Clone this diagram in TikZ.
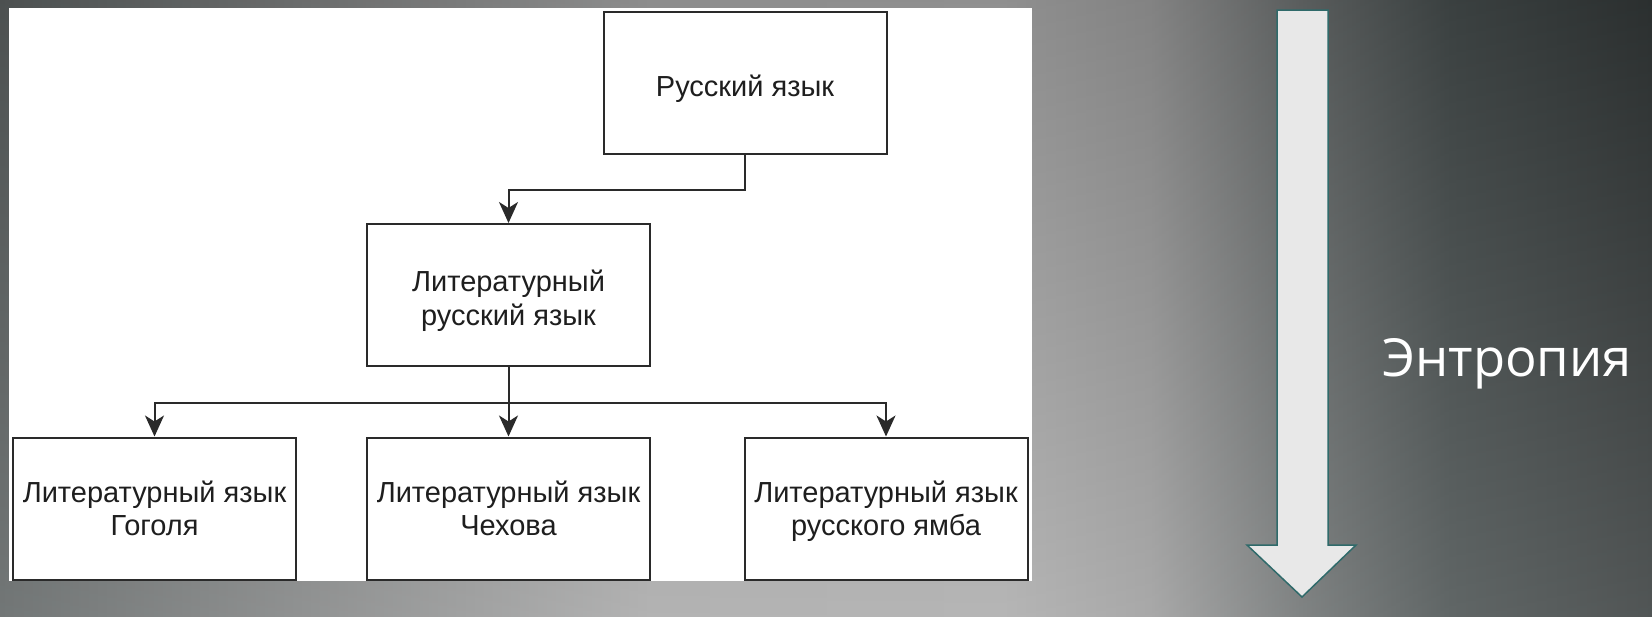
\documentclass[tikz,border=0pt]{standalone}
\usepackage{fontspec}
\setmainfont{Liberation Sans}
\newfontfamily\entfont{Open Sans}
\usetikzlibrary{arrows.meta}
\definecolor{boxline}{HTML}{2A2A2A}
\definecolor{textc}{HTML}{1E1E1E}
\definecolor{arrfill}{HTML}{E8E8E8}
\definecolor{arrline}{HTML}{2F6A6A}
\definecolor{c0}{HTML}{5A5F5F}
\definecolor{c1}{HTML}{7D7F7F}
\definecolor{c2}{HTML}{A6A6A6}
\definecolor{c3}{HTML}{A9A9A9}
\definecolor{c4}{HTML}{9A9A9A}
\definecolor{c5}{HTML}{6A6E6E}
\definecolor{c6}{HTML}{454C4C}
\definecolor{c7}{HTML}{333838}
\pgfdeclarehorizontalshading{bgsh}{100bp}{color(0bp)=(c0); color(25bp)=(c0); color(34bp)=(c1); color(44.7bp)=(c2); color(55.3bp)=(c3); color(59.8bp)=(c4); color(64.35bp)=(c5); color(68.9bp)=(c6); color(75bp)=(c7); color(100bp)=(c7)}
\tikzset{
  box/.style={draw=boxline, line width=2pt, fill=white, minimum width=283pt,
    minimum height=142pt, align=center, inner sep=0pt, text=textc,
    font=\fontsize{29}{33.5}\selectfont, text height=54pt, text depth=0pt},
  onebox/.style={box, text height=28pt, text depth=0pt},
  conn/.style={draw=boxline, line width=2pt,
    -{Stealth[length=21pt, width=19pt, inset=6pt]}},
}
\begin{document}
\begin{tikzpicture}[x=1pt, y=-1pt]
\useasboundingbox (0,0) rectangle (1652,616);
\shade[shading=bgsh] (0,0) rectangle (1652,616);
\shade[top color=black, bottom color=white, opacity=0.15] (0,0) rectangle (1652,616);
\fill[white] (9,8) rectangle (1032,581);
% boxes
\node[onebox] (top) at (745,82.5) {Русский язык};
\node[box, text height=60pt] (mid) at (508.5,295) {Литературный\\русский язык};
\node[box] (left) at (154.5,508.5) {Литературный язык\\Гоголя};
\node[box] (cen) at (508.5,508.5) {Литературный язык\\Чехова};
\node[box] (right) at (886,508.5) {Литературный язык\\русского ямба};
% connectors
\draw[conn] (top.south) -- ++(0,35) -| (mid.north);
\draw[conn] (mid.south) -- ++(0,36) -| (left.north);
\draw[conn] (mid.south) -- ++(0,36) -| (right.north);
\draw[conn] (mid.south) -- (cen.north);
% entropy arrow
\draw[fill=arrfill, draw=arrline, line width=1.5pt, line join=miter]
  (1277,10) -- (1328,10) -- (1328,545) -- (1356,545) -- (1302,597)
  -- (1247,545) -- (1277,545) -- cycle;
\node[anchor=base west, inner sep=0pt, text=white, font=\entfont\fontsize{52.5}{60}\selectfont] (ent) at (1382,376) {Энтропия};
\end{tikzpicture}
\end{document}
